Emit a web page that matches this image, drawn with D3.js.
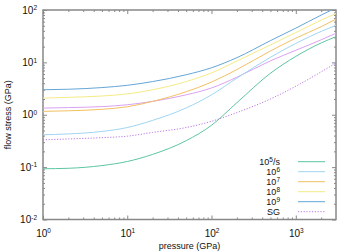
<!DOCTYPE html>
<html>
<head>
<meta charset="utf-8">
<script src="https://cdn.jsdelivr.net/npm/d3@7"></script>
<style>
body { margin: 0; background: #fff; }
text { font-family: "Liberation Sans", Arial, sans-serif; fill: #111; }
</style>
</head>
<body>
<svg id="chart" width="360" height="252"></svg>
<script>
// ---------------- DATA
var pressure   = [1, 2, 5, 10, 20, 50, 100, 200, 500, 1000, 2000, 3000];
var rate1e5    = [0.093, 0.095, 0.107, 0.128, 0.175, 0.32, 0.63, 1.7, 6.2, 13, 23.5, 31];
var rate1e6    = [0.415, 0.43, 0.48, 0.57, 0.78, 1.35, 2.4, 5.0, 12.5, 23, 39, 51];
var rate1e7    = [1.16, 1.19, 1.27, 1.42, 1.8, 2.75, 4.2, 7.3, 16.5, 29, 48, 67];
var rate1e8    = [2.08, 2.15, 2.28, 2.5, 3.0, 4.3, 6.3, 10.6, 21.5, 37, 64, 86];
var rate1e9    = [3.0, 3.07, 3.3, 3.65, 4.3, 5.8, 7.9, 12.3, 26, 45, 80, 110];
var steinberg  = [0.333, 0.345, 0.365, 0.39, 0.46, 0.57, 0.75, 1.1, 2.0, 3.5, 6.6, 9.7];
var unlabelled = [1.34, 1.37, 1.43, 1.55, 1.8, 2.4, 3.25, 5.2, 10.7, 17, 27, 36];

var legendNames = [["10", "5", "/s"], ["10", "6", ""], ["10", "7", ""], ["10", "8", ""], ["10", "9", ""], ["SG", "", ""]];
var xTicks = [1, 10, 100, 1000];
var yTicks = [0.01, 0.1, 1, 10, 100];

var series = [
  {values: unlabelled, color: "#d9a2f2", dash: null,  legend: -1},
  {values: rate1e5,    color: "#5cc6a2", dash: null,  legend: 0},
  {values: rate1e6,    color: "#9fd5f2", dash: null,  legend: 1},
  {values: rate1e7,    color: "#f2c062", dash: null,  legend: 2},
  {values: rate1e8,    color: "#f4ea86", dash: null,  legend: 3},
  {values: rate1e9,    color: "#64a6d6", dash: null,  legend: 4},
  {values: steinberg,  color: "#b878e6", dash: "1.2,1.6", legend: 5}
];

// ---------------- SCALES
var plotLeft = 43, plotRight = 336, plotTop = 10, plotBottom = 219.5;
var svg = d3.select("#chart");

var x = d3.scaleLog().domain([1, 3000]).range([plotLeft, plotRight]);
var y = d3.scaleLog().domain([0.01, 100]).range([plotBottom, plotTop]);

function minorTicks(lo, hi) {
  var out = [];
  for (var e = Math.floor(Math.log10(lo)); e <= Math.ceil(Math.log10(hi)); e++) {
    for (var m = 2; m <= 9; m++) {
      var v = m * Math.pow(10, e);
      if (v > lo && v < hi) out.push(v);
    }
  }
  return out;
}

function styleAxis(g) {
  g.select(".domain").remove();
  g.selectAll(".tick line").attr("stroke", "#888").attr("stroke-width", 1);
}

function supLabels(g) {
  g.selectAll(".tick text").each(function(d) {
    var t = d3.select(this);
    t.text(null);
    t.append("tspan").text("10");
    t.append("tspan").attr("dy", -3.5).attr("font-size", "6.5px")
      .text(Math.round(Math.log10(d)));
  });
}

// ---------------- AXES (ticks inside, mirrored)
svg.append("g").attr("transform", "translate(0," + plotBottom + ")")
  .call(d3.axisBottom(x).tickValues(minorTicks(1, 3000)).tickSize(-2).tickFormat(""))
  .call(styleAxis);
svg.append("g").attr("transform", "translate(0," + plotTop + ")")
  .call(d3.axisTop(x).tickValues(minorTicks(1, 3000)).tickSize(-2).tickFormat(""))
  .call(styleAxis);
svg.append("g").attr("transform", "translate(0," + plotTop + ")")
  .call(d3.axisTop(x).tickValues(xTicks).tickSize(-4).tickFormat(""))
  .call(styleAxis);
svg.append("g").attr("transform", "translate(0," + plotBottom + ")")
  .attr("font-size", "9px")
  .call(d3.axisBottom(x).tickValues(xTicks).tickSize(-4).tickPadding(10).tickFormat(d3.format("d")))
  .call(styleAxis).call(supLabels);

svg.append("g").attr("transform", "translate(" + plotLeft + ",0)")
  .call(d3.axisLeft(y).tickValues(minorTicks(0.01, 100)).tickSize(-2).tickFormat(""))
  .call(styleAxis);
svg.append("g").attr("transform", "translate(" + plotRight + ",0)")
  .call(d3.axisRight(y).tickValues(minorTicks(0.01, 100)).tickSize(-2).tickFormat(""))
  .call(styleAxis);
svg.append("g").attr("transform", "translate(" + plotRight + ",0)")
  .call(d3.axisRight(y).tickValues(yTicks).tickSize(-4).tickFormat(""))
  .call(styleAxis);
svg.append("g").attr("transform", "translate(" + plotLeft + ",0)")
  .attr("font-size", "9px")
  .call(d3.axisLeft(y).tickValues(yTicks).tickSize(-4).tickPadding(6).tickFormat(d3.format("d")))
  .call(styleAxis).call(supLabels);
svg.selectAll(".tick text").attr("fill", "#111");

// frame
svg.append("rect")
  .attr("x", plotLeft).attr("y", plotTop)
  .attr("width", plotRight - plotLeft).attr("height", plotBottom - plotTop)
  .attr("fill", "none").attr("stroke", "#888").attr("stroke-width", 1.5);

// ---------------- LINES
svg.append("clipPath").attr("id", "plotclip").append("rect")
  .attr("x", plotLeft).attr("y", plotTop)
  .attr("width", plotRight - plotLeft).attr("height", plotBottom - plotTop);

var line = d3.line()
  .x(function(d, i) { return x(pressure[i]); })
  .y(function(d) { return y(d); })
  .curve(d3.curveMonotoneX);

var plot = svg.append("g").attr("clip-path", "url(#plotclip)");
series.forEach(function(s) {
  plot.append("path")
    .attr("fill", "none")
    .attr("stroke", s.color)
    .attr("stroke-width", 1)
    .attr("stroke-dasharray", s.dash)
    .attr("d", line(s.values));
});

// ---------------- LEGEND
var legend = svg.append("g").attr("font-size", "9px");
series.filter(function(s) { return s.legend >= 0; }).forEach(function(s) {
  var ly = 161.7 + s.legend * 10;
  var name = legendNames[s.legend];
  var t = legend.append("text").attr("x", 280).attr("y", ly + 3.3).attr("text-anchor", "end");
  t.append("tspan").text(name[0]);
  if (name[1]) t.append("tspan").attr("dy", -3.5).attr("font-size", "6.5px").text(name[1]);
  if (name[2]) t.append("tspan").attr("dy", 3.5).text(name[2]);
  legend.append("line")
    .attr("x1", 298).attr("x2", 325).attr("y1", ly).attr("y2", ly)
    .attr("stroke", s.color).attr("stroke-width", 1)
    .attr("stroke-dasharray", s.dash);
});

// ---------------- TITLES
svg.append("text")
  .attr("x", (plotLeft + plotRight) / 2).attr("y", 248.5)
  .attr("text-anchor", "middle").attr("font-size", "9px")
  .text("pressure (GPa)");
svg.append("text")
  .attr("transform", "translate(11," + ((plotTop + plotBottom) / 2) + ") rotate(-90)")
  .attr("text-anchor", "middle").attr("font-size", "9px")
  .text("flow stress (GPa)");
</script>
</body>
</html>
